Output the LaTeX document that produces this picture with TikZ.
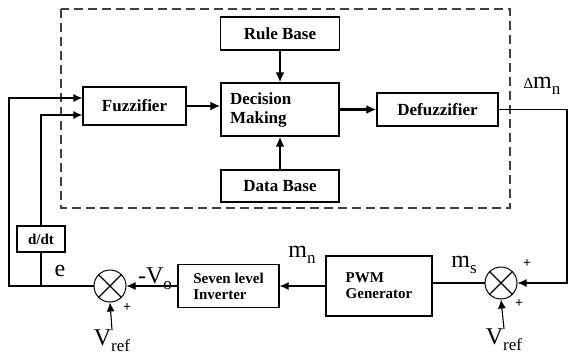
\documentclass[tikz,border=0pt]{standalone}
\usepackage{fontspec}
\setmainfont{Liberation Serif}
\usetikzlibrary{arrows.meta,calc,positioning}
\newcommand{\lowidx}[1]{\raisebox{-6pt}{\fontsize{17}{17}\selectfont #1}}
\begin{document}
\begin{tikzpicture}[x=1pt, y=-1pt,
	block/.style={draw, line width=1.3pt, font=\fontsize{17}{19}\selectfont\bfseries, minimum height=33pt, inner sep=2pt},
	small block/.style={block, font=\fontsize{15}{16}\selectfont\bfseries},
	summer/.style={draw, circle, line width=1pt, minimum size=32pt, inner sep=0pt},
	flow/.style={-{Latex[length=10pt,width=9pt]}, line width=2.8pt},
	signal/.style={-{Latex[length=9pt,width=8pt]}, line width=1.1pt},
	wire/.style={line width=1.1pt},
	lbl/.style={font=\fontsize{24}{24}\selectfont, inner sep=0pt},
	sign/.style={font=\fontsize{14}{14}\selectfont\bfseries, inner sep=0pt}]
	\useasboundingbox (0,0) rectangle (576,360);
	\draw[line width=1.4pt, dash pattern=on 9pt off 5pt, black!75] (61,9) rectangle (510,208);
	% fuzzy controller
	\node[block, minimum width=119pt] (rule) at (280,33.5) {Rule Base};
	\node[block, minimum height=53pt, text width=100pt, inner xsep=9pt, align=left] (dec) at (280,109.5) {Decision\\Making};
	\node[block, minimum width=118pt, minimum height=32pt] (data) at (280,186) {Data Base};
	\node[block, minimum width=103pt, minimum height=38pt] (fuzz) at (134.5,106) {Fuzzifier};
	\node[block, minimum width=121pt] (defuzz) at (437.5,109.5) {Defuzzifier};
	% plant side
	\node[small block, minimum width=48pt, minimum height=26pt] (ddt) at (41,239) {d/dt};
	\node[small block, minimum width=106pt, minimum height=60pt, align=left] (pwm) at (379,286) {PWM\\Generator};
	\node[small block, minimum width=101pt, minimum height=43pt, align=left] (inv) at (228.5,286) {Seven level\\Inverter};
	\node[summer] (sum1) at (110,286) {};
	\node[summer] (sum2) at (501,283) {};
	\foreach \s in {sum1,sum2} {
		\draw[wire] (\s.north west) -- (\s.south east);
		\draw[wire] (\s.north east) -- (\s.south west);
	}
	\node[lbl] (vref1) at (112,341) {V\lowidx{ref}};
	\node[lbl] (vref2) at (504,340) {V\lowidx{ref}};
	\node[lbl] (dmn) at (542,86) {{\fontsize{15}{15}\selectfont Δ}m\lowidx{n}};
	\node[lbl] (ms) at (464,265) {m\lowidx{s}};
	\node[lbl] (mn) at (302,255) {m\lowidx{n}};
	\node[lbl] (vo) at (155,279) {-V\lowidx{o}};
	\node[lbl] (e) at (60,271) {e};
	\node[sign] (p1) at (527,264) {+};
	\node[sign] (p2) at (519,304) {+};
	\node[sign] (p3) at (127,308) {+};
	% connectors
	\coordinate (eL) at (9,286);
	\coordinate (eR) at (41,286);
	\coordinate (corner) at (567,108);
	\draw[signal] (sum1.west) -- (eL) |- ($(fuzz.west)+(0,-8)$);
	\draw[wire] (eR) -- (ddt.south);
	\draw[signal] (ddt.north) |- ($(fuzz.west)+(0,9)$);
	\draw[flow] (fuzz.east) -- (fuzz.east -| dec.west);
	\draw[flow] (rule) -- (dec);
	\draw[flow] (data) -- (dec);
	\draw[flow] (dec.east |- defuzz.west) -- (defuzz.west);
	\draw[signal] (defuzz.east) -- (defuzz.east -| corner) |- (sum2.east);
	\draw[wire] (sum2.west) -- (sum2.west -| pwm.east);
	\draw[signal] (pwm.west) -- (pwm.west -| inv.east);
	\draw[signal] (inv.west) -- (sum1.east);
	\draw[signal] (vref1.north) -- (sum1.south);
	\draw[signal] (vref2.north) -- (sum2.south);
\end{tikzpicture}
\end{document}
